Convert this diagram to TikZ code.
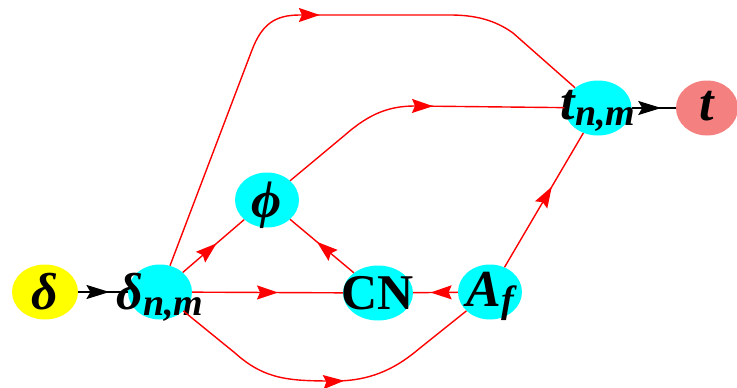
\documentclass[tikz,border=0pt]{standalone}
\usepackage{fontspec}
\setmainfont{Liberation Serif}
\usetikzlibrary{arrows.meta,decorations.markings,shapes.geometric}
\newcommand{\nlab}[2]{\smash{\makebox[0pt]{\raisebox{#1}{#2}}}}
\newcommand{\sbs}[1]{\raisebox{-6pt}{\fontsize{38}{38}\selectfont #1}}
\definecolor{tcol}{RGB}{245,128,128}
\definecolor{cyn}{RGB}{0,255,255}
\definecolor{ylw}{RGB}{255,255,0}
\definecolor{rd}{RGB}{255,0,0}
\tikzset{
  vtx/.style={ellipse, draw=none, fill=cyn, minimum width=64pt, minimum height=55pt,
    inner sep=0pt, font=\fontsize{52}{52}\selectfont\bfseries\itshape},
  redge/.style={rd, line width=1.4pt, postaction={decorate},
    decoration={markings, mark=at position #1 with {\arrow{Stealth[length=21pt,width=14pt,inset=3pt]}}}},
  redge/.default=0.5,
  bedge/.style={black, line width=2pt, postaction={decorate},
    decoration={markings, mark=at position #1 with {\arrow{Stealth[length=23pt,width=14pt,inset=4pt]}}}},
  bedge/.default=0.65
}
\begin{document}
\begin{tikzpicture}[x=1pt,y=-1pt]
\useasboundingbox (0,0) rectangle (737,388);
\node[vtx, fill=ylw, minimum width=66pt] (d) at (45,292) {\nlab{-17pt}{δ}};
\node[vtx] (dnm) at (160,292) {\nlab{-17pt}{δ\sbs{n,m}}};
\node[vtx] (phi) at (267,200) {\nlab{-17pt}{ϕ}};
\node[vtx, minimum width=70pt] (cn) at (378,293) {\nlab{-16pt}{\fontsize{50}{50}\selectfont\upshape CN}};
\node[vtx] (af) at (490,292) {\nlab{-14pt}{A\sbs{f}}};
\node[vtx, minimum width=67pt] (tnm) at (598,108) {\nlab{-11pt}{t\sbs{n,m}}};
\node[vtx, fill=tcol, minimum width=62pt] (t) at (707,108) {\nlab{-12pt}{t}};

\draw[redge=0.53] (dnm) -- (252,50) .. controls (262,24) and (275,15) .. (300,15) -- (450,15)
  .. controls (475,15) and (495,20) .. (513,33) -- (tnm);
\draw[redge=0.56] (phi) -- (345,135) .. controls (370,113) and (390,106) .. (415,106) -- (tnm);
\draw[redge=0.56] (dnm) -- (235,353) .. controls (265,380) and (290,381) .. (335,381)
  .. controls (375,381) and (400,365) .. (420,348) -- (af);
\draw[redge=0.55] (dnm) -- (phi);
\draw[redge=0.57] (dnm) -- (cn);
\draw[redge=0.58] (cn) -- (phi);
\draw[redge=0.61] (af) -- (cn);
\draw[redge=0.6] (af) -- (tnm);
\draw[bedge=0.63] (d) -- (dnm);
\draw[bedge=0.67] (tnm) -- (t);
\end{tikzpicture}
\end{document}
